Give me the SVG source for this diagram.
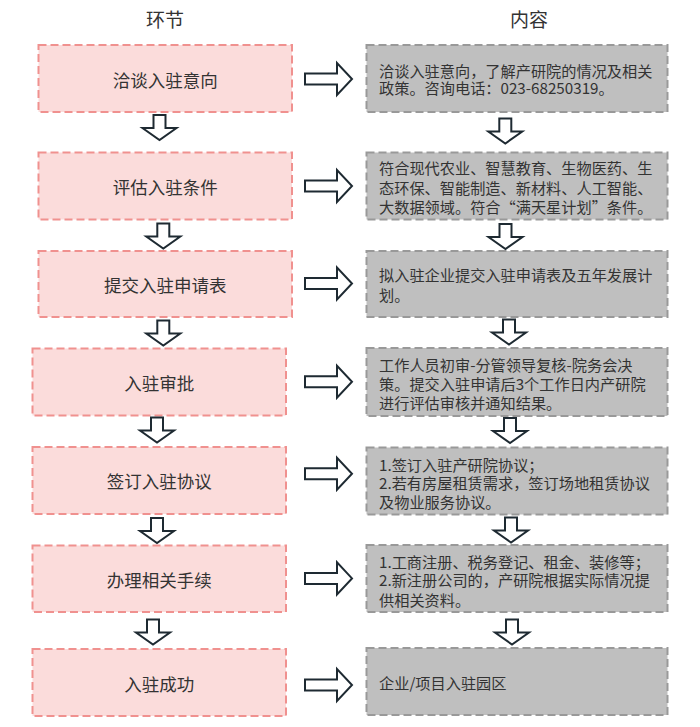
<svg xmlns="http://www.w3.org/2000/svg" width="700" height="727" viewBox="0 0 700 727">
<defs>
<style>
.bg{fill:#ffffff}
.lbox{fill:#FBDCDB;stroke:#F0918F;stroke-width:2;stroke-dasharray:8 4}
.rbox{fill:#BFBFBF;stroke:#999999;stroke-width:2;stroke-dasharray:8 4}
.arr{fill:#ffffff;stroke:#1E2A32;stroke-width:2;stroke-linejoin:miter}
.hd{font-family:"Noto Sans CJK SC","Noto Sans",sans-serif;font-size:19px;fill:#333333;text-anchor:middle}
.lt{font-family:"Noto Sans CJK SC","Noto Sans",sans-serif;font-size:17.5px;fill:#333333;text-anchor:middle}
.rt{font-family:"Noto Sans CJK SC","Noto Sans",sans-serif;font-size:15.2px;fill:#333333}
</style>
<path id="down" class="arr" d="M-6,1 H6 V14 H17 L0,26 L-17,14 H-6 Z"/>
<path id="right" class="arr" d="M305,-5.5 H337 V-16 L352,0 L337,16 V5.5 H305 Z"/>
</defs>
<rect class="bg" x="0" y="0" width="700" height="727"/>
<g id="headers">
<text class="hd" x="165" y="27">环节</text>
<text class="hd" x="529" y="27">内容</text>
</g>
<g id="step1">
<rect class="lbox" x="38.5" y="45" width="253.5" height="67"/>
<text class="lt" x="165.25" y="86.5">洽谈入驻意向</text>
</g>
<g id="step2">
<rect class="lbox" x="38.5" y="152.5" width="253.5" height="67"/>
<text class="lt" x="165.25" y="194">评估入驻条件</text>
</g>
<g id="step3">
<rect class="lbox" x="38.5" y="251" width="253.5" height="66"/>
<text class="lt" x="165.25" y="292">提交入驻申请表</text>
</g>
<g id="step4">
<rect class="lbox" x="32.5" y="348.5" width="253.5" height="67"/>
<text class="lt" x="159.25" y="390">入驻审批</text>
</g>
<g id="step5">
<rect class="lbox" x="32.5" y="447" width="253.5" height="67"/>
<text class="lt" x="159.25" y="488">签订入驻协议</text>
</g>
<g id="step6">
<rect class="lbox" x="32.5" y="545.5" width="253.5" height="66.5"/>
<text class="lt" x="159.25" y="586.5">办理相关手续</text>
</g>
<g id="step7">
<rect class="lbox" x="32.5" y="649" width="253.5" height="67"/>
<text class="lt" x="159.25" y="691">入驻成功</text>
</g>
<g id="content1">
<rect class="rbox" x="366.5" y="45" width="301" height="67"/>
<text class="rt" x="379" y="77.3">洽谈入驻意向，了解产研院的情况及相关</text>
<text class="rt" x="379" y="94.3">政策。咨询电话：023-68250319。</text>
</g>
<g id="content2">
<rect class="rbox" x="366.5" y="152.5" width="301" height="67"/>
<text class="rt" x="379" y="174">符合现代农业、智慧教育、生物医药、生</text>
<text class="rt" x="379" y="194">态环保、智能制造、新材料、人工智能、</text>
<text class="rt" x="379" y="213.3">大数据领域。符合“满天星计划”条件。</text>
</g>
<g id="content3">
<rect class="rbox" x="366.5" y="251" width="301" height="66"/>
<text class="rt" x="379" y="280.6">拟入驻企业提交入驻申请表及五年发展计</text>
<text class="rt" x="379" y="300.6">划。</text>
</g>
<g id="content4">
<rect class="rbox" x="366.5" y="348" width="301" height="68"/>
<text class="rt" x="379" y="370.6">工作人员初审-分管领导复核-院务会决</text>
<text class="rt" x="379" y="390.3">策。提交入驻申请后3个工作日内产研院</text>
<text class="rt" x="379" y="408.8">进行评估审核并通知结果。</text>
</g>
<g id="content5">
<rect class="rbox" x="366.5" y="447.5" width="301" height="67"/>
<text class="rt" x="379" y="470.6">1.签订入驻产研院协议；</text>
<text class="rt" x="379" y="489">2.若有房屋租赁需求，签订场地租赁协议</text>
<text class="rt" x="379" y="507.6">及物业服务协议。</text>
</g>
<g id="content6">
<rect class="rbox" x="366.5" y="545" width="301" height="67"/>
<text class="rt" x="379" y="568.3">1.工商注册、税务登记、租金、装修等；</text>
<text class="rt" x="379" y="586.3">2.新注册公司的，产研院根据实际情况提</text>
<text class="rt" x="379" y="606">供相关资料。</text>
</g>
<g id="content7">
<rect class="rbox" x="366.5" y="648" width="301" height="67"/>
<text class="rt" x="379" y="689">企业/项目入驻园区</text>
</g>
<g id="connectors">
<use href="#down" x="159.5" y="114"/>
<use href="#down" x="163.3" y="222.5"/>
<use href="#down" x="163.3" y="319.5"/>
<use href="#down" x="157" y="416.5"/>
<use href="#down" x="157" y="517"/>
<use href="#down" x="153" y="618.5"/>
<use href="#down" x="505.3" y="117.5"/>
<use href="#down" x="505.5" y="223"/>
<use href="#down" x="509" y="318.5"/>
<use href="#down" x="510" y="417"/>
<use href="#down" x="511" y="516.5"/>
<use href="#down" x="512" y="618.5"/>
<use href="#right" x="0" y="79"/>
<use href="#right" x="0" y="186"/>
<use href="#right" x="0" y="283.5"/>
<use href="#right" x="0" y="381.7"/>
<use href="#right" x="0" y="473.7"/>
<use href="#right" x="0" y="578.4"/>
<use href="#right" x="0" y="685"/>
</g>
</svg>
